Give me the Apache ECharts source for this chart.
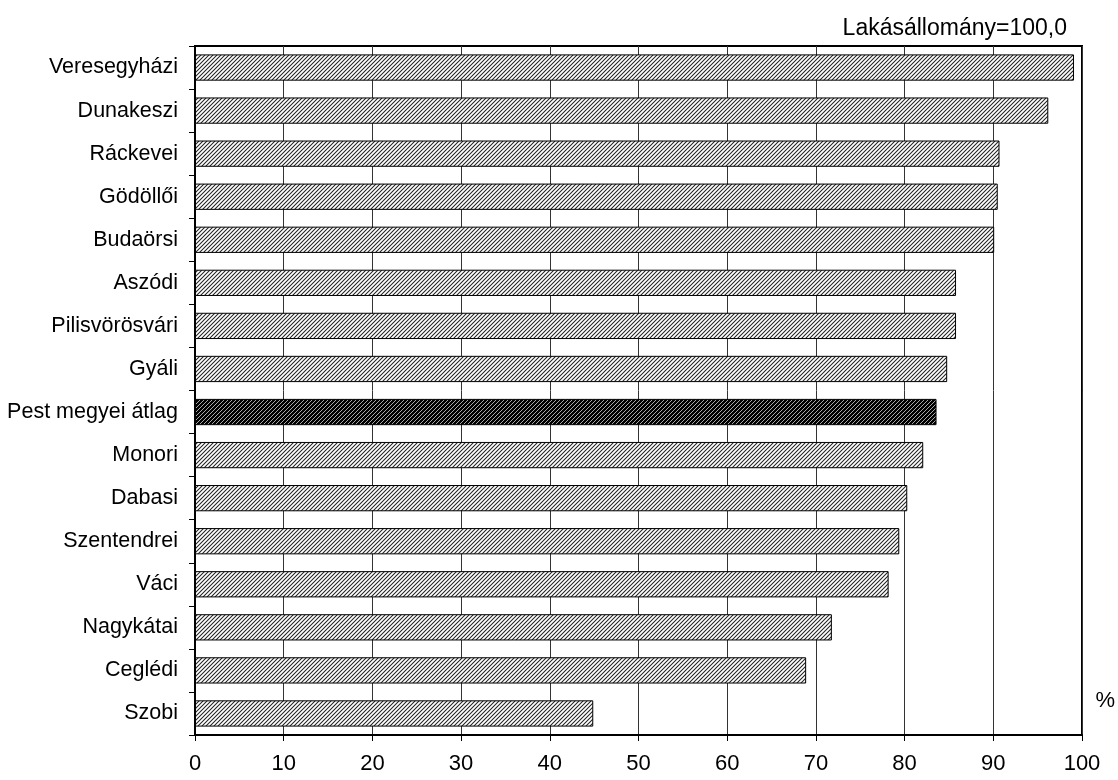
<!DOCTYPE html>
<html>
<head>
<meta charset="utf-8">
<script src="https://cdn.jsdelivr.net/npm/echarts@6/dist/echarts.min.js"></script>
<style>html,body{margin:0;padding:0;background:#fff;}#c{width:1118px;height:780px;}</style>
</head>
<body>
<div id="c"></div>
<script>
const categories = ['Veresegyházi','Dunakeszi','Ráckevei','Gödöllői','Budaörsi','Aszódi','Pilisvörösvári','Gyáli','Pest megyei átlag','Monori','Dabasi','Szentendrei','Váci','Nagykátai','Ceglédi','Szobi'];
const values = [99.1, 96.2, 90.7, 90.5, 90.1, 85.8, 85.8, 84.8, 83.6, 82.1, 80.3, 79.4, 78.2, 71.8, 68.9, 44.9];
const highlight = 'Pest megyei átlag';
const xTicks = [0,10,20,30,40,50,60,70,80,90,100];
const titleText = 'Lakásállomány=100,0';
const unitText = '%';

function hatch(bg, fg, lw) {
  const c = document.createElement('canvas');
  c.width = 4; c.height = 4;
  const g = c.getContext('2d');
  g.fillStyle = bg; g.fillRect(0,0,4,4);
  g.strokeStyle = fg; g.lineWidth = lw;
  g.beginPath();
  g.moveTo(-1,5); g.lineTo(5,-1);
  g.moveTo(-1,1); g.lineTo(1,-1);
  g.moveTo(3,5); g.lineTo(5,3);
  g.stroke();
  return c;
}
const lightPat = {image: hatch('#ffffff', '#222222', 1.05), repeat: 'repeat'};
const darkPat = {image: hatch('#000000', '#a8a8a8', 1.0), repeat: 'repeat'};
const FONT = 'Liberation Sans, Arial, sans-serif';

const chart = echarts.init(document.getElementById('c'), null, {renderer: 'canvas'});
chart.setOption({
  animation: false,
  backgroundColor: '#fff',
  textStyle: {fontFamily: FONT},
  title: {
    text: titleText,
    right: 46, top: 12,
    textStyle: {fontSize: 23, fontWeight: 'normal', color: '#000', fontFamily: FONT}
  },
  graphic: [{
    type: 'text', right: 3, top: 690,
    style: {text: unitText, fontSize: 22, fill: '#000', fontFamily: FONT}
  }],
  grid: {left: 195, right: 36, top: 46, bottom: 45, show: true, borderColor: '#000', borderWidth: 2, backgroundColor: 'transparent'},
  xAxis: {
    type: 'value', min: 0, max: 100, interval: 10,
    axisLine: {show: true, lineStyle: {color: '#000', width: 2}},
    axisTick: {show: true, length: 6, lineStyle: {color: '#000'}},
    axisLabel: {fontSize: 22, color: '#000', margin: 18, fontFamily: FONT},
    splitLine: {show: true, lineStyle: {color: '#333', width: 1}}
  },
  yAxis: {
    type: 'category', data: categories, inverse: true,
    axisLine: {show: true, lineStyle: {color: '#000', width: 2}},
    axisTick: {show: true, length: 6, lineStyle: {color: '#000'}},
    axisLabel: {fontSize: 21.5, color: '#000', margin: 17, fontFamily: FONT},
    splitLine: {show: false}
  },
  series: [{
    type: 'bar',
    barCategoryGap: '39%',
    data: values.map((v, i) => ({
      value: v,
      itemStyle: {color: categories[i] === highlight ? darkPat : lightPat}
    })),
    itemStyle: {borderColor: '#000', borderWidth: 1}
  }]
});
</script>
</body>
</html>
